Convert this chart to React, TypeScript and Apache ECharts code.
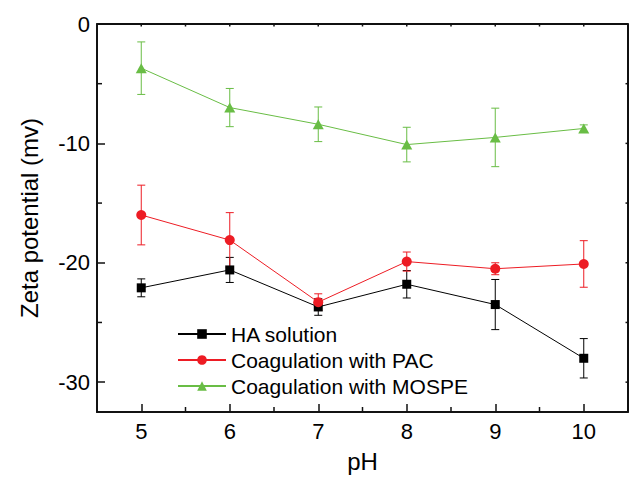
import React, { useEffect, useRef } from "react";
import * as echarts from "echarts";

const pH = [5, 6, 7, 8, 9, 10];
const haMean = [-22.1, -20.6, -23.7, -21.8, -23.5, -28.0];
const haErr = [0.75, 1.05, 0.7, 1.15, 2.1, 1.65];
const pacMean = [-16.0, -18.1, -23.3, -19.9, -20.5, -20.1];
const pacErr = [2.5, 2.3, 0.7, 0.8, 0.5, 1.95];
const mospeMean = [-3.7, -7.0, -8.4, -10.1, -9.5, -8.75];
const mospeErr = [2.2, 1.6, 1.45, 1.45, 2.45, 0.3];

const seriesNames = ["HA solution", "Coagulation with PAC", "Coagulation with MOSPE"];
const X_MIN = 4.5;
const X_MAX = 10.5;
const Y_MIN = -32.5;
const Y_MAX = 0;
const xMajor = [5, 6, 7, 8, 9, 10];
const xMinor = [5.5, 6.5, 7.5, 8.5, 9.5];
const yMajor = [-30, -20, -10, 0];
const yMinor = [-25, -15, -5];
const xTop = [5, 5.5, 6, 6.5, 7, 7.5, 8, 8.5, 9, 9.5, 10];
const yRight = [-30, -25, -20, -15, -10, -5];

const FONT = "'Liberation Sans', Arial, sans-serif";
const AXIS_COLOR = "#111";
const colors = ["#000000", "#ed1c24", "#69bd45"];
const symbols = ["rect", "circle", "triangle"];
const symbolSizes: any[] = [9, 10, [11, 10]];

function errData(mean: number[], err: number[]) {
  return pH.map((x, i) => [x, mean[i] - err[i], mean[i] + err[i]]);
}

function errSeries(name: string, data: number[][], color: string) {
  return {
    name,
    type: "custom",
    z: 1,
    silent: true,
    encode: { x: 0, y: [1, 2] },
    data,
    renderItem: (params: any, api: any) => {
      const x = api.value(0);
      const lo = api.value(1);
      const hi = api.value(2);
      const p1 = api.coord([x, hi]);
      const p2 = api.coord([x, lo]);
      const w = 4;
      const style = { stroke: color, lineWidth: 1, fill: "none" };
      return {
        type: "group",
        children: [
          { type: "line", shape: { x1: p1[0], y1: p1[1], x2: p2[0], y2: p2[1] }, style },
          { type: "line", shape: { x1: p1[0] - w, y1: p1[1], x2: p1[0] + w, y2: p1[1] }, style },
          { type: "line", shape: { x1: p2[0] - w, y1: p2[1], x2: p2[0] + w, y2: p2[1] }, style },
        ],
      };
    },
  };
}

// Frame (top/right) and minor ticks drawn through the axes' own scale
function frameSeries() {
  return {
    name: "frame",
    type: "custom",
    z: 1,
    silent: true,
    clip: false,
    encode: { x: 0, y: 1 },
    data: [[7.5, -16]],
    renderItem: (params: any, api: any) => {
      const children: any[] = [];
      const seg = (a: number[], b: number[]) => {
        children.push({
          type: "line",
          shape: { x1: a[0], y1: a[1], x2: b[0], y2: b[1] },
          style: { stroke: AXIS_COLOR, lineWidth: 1.5, fill: "none" },
        });
      };
      const tl = api.coord([X_MIN, Y_MAX]);
      const tr = api.coord([X_MAX, Y_MAX]);
      const br = api.coord([X_MAX, Y_MIN]);
      seg(tl, tr);
      seg(tr, br);
      xMinor.forEach((v) => {
        const p = api.coord([v, Y_MIN]);
        seg(p, [p[0], p[1] - 5]);
      });
      yMinor.forEach((v) => {
        const p = api.coord([X_MIN, v]);
        seg(p, [p[0] + 5, p[1]]);
      });
      xTop.forEach((v) => {
        const p = api.coord([v, Y_MAX]);
        seg(p, [p[0], p[1] + 2.5]);
      });
      yRight.forEach((v) => {
        const p = api.coord([X_MAX, v]);
        seg(p, [p[0] - 2.5, p[1]]);
      });
      return { type: "group", children };
    },
  };
}

function lineSeries(idx: number, mean: number[]) {
  const s: any = {
    name: seriesNames[idx],
    type: "line",
    z: 3,
    data: pH.map((x, i) => [x, mean[i]]),
    symbol: symbols[idx],
    symbolSize: symbolSizes[idx],
    lineStyle: { color: colors[idx], width: 1 },
    itemStyle: { color: colors[idx] },
  };
  if (idx === 0) {
    s.markLine = {
      silent: true,
      symbol: "none",
      animation: false,
      label: { show: false },
      lineStyle: { color: AXIS_COLOR, width: 1.5, type: "solid" },
      data: [{ yAxis: Y_MAX }, { xAxis: X_MAX }],
    };
  }
  return s;
}

export default function App() {
  const ref = useRef<HTMLDivElement>(null);
  useEffect(() => {
    if (!ref.current) return;
    const chart = echarts.init(ref.current, null, { renderer: "svg" });
    const tickStyle = { color: AXIS_COLOR, width: 1.5 };
    chart.setOption({
      animation: false,
      grid: {
        left: 97,
        right: 3,
        top: 24,
        bottom: 72,
        show: true,
        borderColor: AXIS_COLOR,
        borderWidth: 1.5,
      },
      legend: {
        data: seriesNames,
        orient: "vertical",
        left: 177,
        top: 322,
        padding: 0,
        itemWidth: 48,
        itemHeight: 12,
        itemGap: 2,
        textStyle: { fontFamily: FONT, fontSize: 21, color: "#000", lineHeight: 24 },
      },
      xAxis: {
        type: "value",
        min: X_MIN,
        max: X_MAX,
        splitLine: { show: false },
        axisLine: { show: true, onZero: false, lineStyle: { color: AXIS_COLOR, width: 1.5 } },
        axisTick: { show: true, inside: true, length: 8, customValues: xMajor, lineStyle: tickStyle },
        axisLabel: { customValues: xMajor, fontFamily: FONT, fontSize: 22, color: "#000", margin: 8 },
        name: "pH",
        nameLocation: "middle",
        nameGap: 37,
        nameTextStyle: { fontFamily: FONT, fontSize: 24, color: "#000" },
      },
      yAxis: {
        type: "value",
        min: Y_MIN,
        max: Y_MAX,
        splitLine: { show: false },
        axisLine: { show: true, onZero: false, lineStyle: { color: AXIS_COLOR, width: 1.5 } },
        axisTick: { show: true, inside: true, length: 8, customValues: yMajor, lineStyle: tickStyle },
        axisLabel: { customValues: yMajor, fontFamily: FONT, fontSize: 22, color: "#000", margin: 7 },
        name: "Zeta potential (mv)",
        nameLocation: "middle",
        nameGap: 56,
        nameTextStyle: { fontFamily: FONT, fontSize: 24, color: "#000" },
      },
      series: [
        frameSeries(),
        errSeries("haErr", errData(haMean, haErr), colors[0]),
        errSeries("pacErr", errData(pacMean, pacErr), colors[1]),
        errSeries("mospeErr", errData(mospeMean, mospeErr), colors[2]),
        lineSeries(0, haMean),
        lineSeries(1, pacMean),
        lineSeries(2, mospeMean),
      ],
    });

    const p0 = chart.convertToPixel({ gridIndex: 0 }, [X_MIN, Y_MAX]) as number[];
    const p1 = chart.convertToPixel({ gridIndex: 0 }, [X_MAX, Y_MIN]) as number[];
    if (p0 && p1 && isFinite(p0[0]) && isFinite(p1[0])) {
      chart.setOption({
        graphic: [
          {
            type: "rect",
            shape: { x: p0[0], y: p0[1], width: p1[0] - p0[0], height: p1[1] - p0[1] },
            style: { fill: "none", stroke: AXIS_COLOR, lineWidth: 1.5 },
          },
        ],
      });
    }
    return () => chart.dispose();
  }, []);
  return (
    <div
      ref={ref}
      style={{ position: "fixed", left: 0, top: 0, width: 631, height: 484, background: "#fff" }}
    />
  );
}
